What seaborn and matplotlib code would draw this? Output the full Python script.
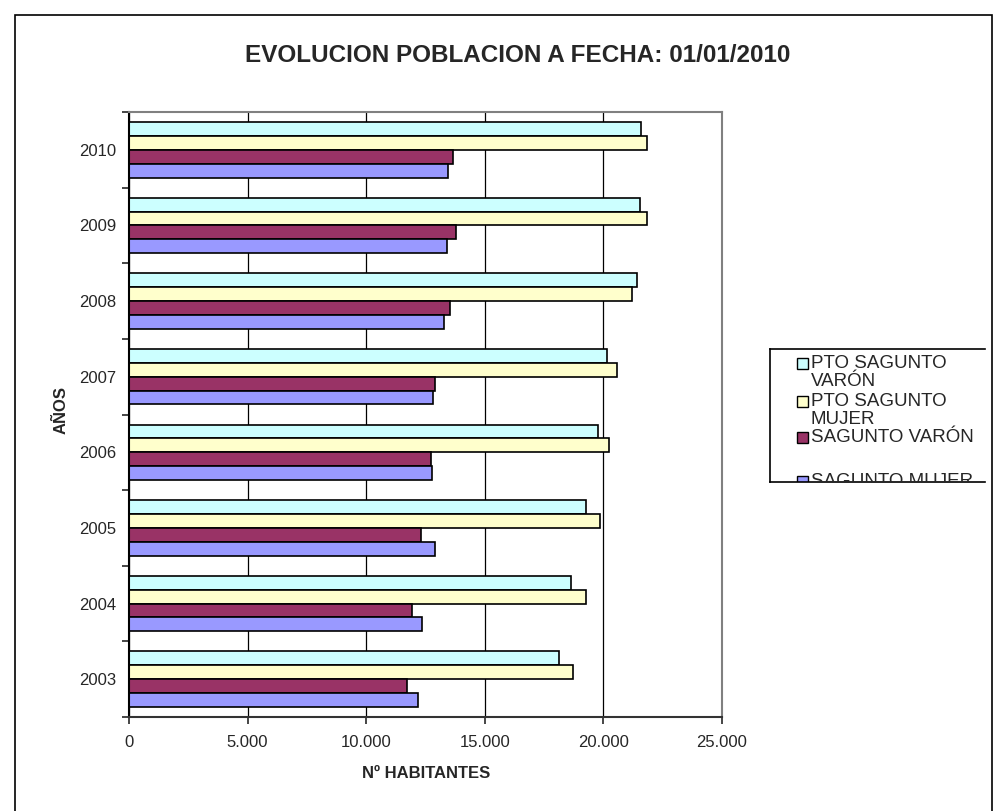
import numpy as np
import pandas as pd
import matplotlib
matplotlib.use("Agg")
import matplotlib.pyplot as plt
import seaborn as sns
from matplotlib.patches import Rectangle

# data
years = ['2010', '2009', '2008', '2007', '2006', '2005', '2004', '2003']
series_names = ['PTO SAGUNTO VARÓN', 'PTO SAGUNTO MUJER', 'SAGUNTO VARÓN', 'SAGUNTO MUJER']
legend_lines = [['PTO SAGUNTO', 'VARÓN'], ['PTO SAGUNTO', 'MUJER'], ['SAGUNTO VARÓN'], ['SAGUNTO MUJER']]
pto_varon = [21570, 21540, 21400, 20140, 19770, 19270, 18640, 18130]
pto_mujer = [21820, 21820, 21210, 20580, 20250, 19840, 19250, 18720]
sag_varon = [13670, 13780, 13550, 12900, 12730, 12290, 11920, 11730]
sag_mujer = [13430, 13410, 13270, 12830, 12780, 12890, 12340, 12200]
colors = ['#CCFFFF', '#FFFFCC', '#993366', '#9999FF']
x_ticks = [0, 5000, 10000, 15000, 20000, 25000]
x_tick_labels = ['0', '5.000', '10.000', '15.000', '20.000', '25.000']

df = pd.DataFrame({
    'year': years * 4,
    'serie': np.repeat(series_names, len(years)),
    'valor': pto_varon + pto_mujer + sag_varon + sag_mujer,
})

sns.set_style("white")
plt.rcParams['font.family'] = ['Liberation Sans', 'DejaVu Sans']

W, H = 1007, 811
fig = plt.figure(figsize=(W / 100, H / 100), dpi=100)

# outer chart border
fig.add_artist(Rectangle((15 / W, -0.05), 977 / W, 1 - 15 / H + 0.05, transform=fig.transFigure,
                         fill=False, edgecolor='black', linewidth=1.2))

ax = fig.add_axes([129 / W, 1 - 717 / H, (722 - 129) / W, (717 - 112) / H])
sns.barplot(data=df, x='valor', y='year', hue='serie', order=years, hue_order=series_names,
            palette=colors, saturation=1, width=0.733, edgecolor='black', linewidth=1.2,
            legend=False, ax=ax)

ax.set_xlim(0, 25000)
ax.set_xticks(x_ticks)
ax.set_xticklabels(x_tick_labels, fontsize=12)
ax.set_axisbelow(True)
ax.xaxis.grid(True, color='black', linewidth=0.9)
ax.yaxis.grid(False)
ax.set_yticks(range(len(years)))
ax.set_yticklabels(years, fontsize=12)
ax.set_yticks(np.arange(-0.5, len(years), 1), minor=True)
ax.tick_params(axis='y', which='major', length=0, pad=9)
ax.tick_params(axis='y', which='minor', length=5, width=1.2, direction='out', left=True)
ax.tick_params(axis='x', which='major', length=5, width=1.2, direction='out', bottom=True, pad=8)
ax.set_xlabel('')
ax.set_ylabel('')
for side, col in [('left', 'black'), ('bottom', '#333333'), ('top', '#808080'), ('right', '#808080')]:
    ax.spines[side].set_visible(True)
    ax.spines[side].set_color(col)
    ax.spines[side].set_linewidth(1.5)

fig.text(518 / W, 1 - 55 / H, 'EVOLUCION POBLACION A FECHA: 01/01/2010', ha='center', va='center',
         fontsize=17.5, fontweight='bold')
fig.text(426 / W, 1 - 773 / H, 'Nº HABITANTES', ha='center', va='center', fontsize=12, fontweight='bold')
fig.text(61 / W, 1 - 410 / H, 'AÑOS', ha='center', va='center', rotation=90, fontsize=12, fontweight='bold')

# legend box, clipped at the bottom like the original
lax = fig.add_axes([770 / W, 1 - 482 / H, (985 - 770) / W, (482 - 349) / H])
lax.set_xlim(770, 985)
lax.set_ylim(482, 349)
lax.set_xticks([])
lax.set_yticks([])
for side in ['left', 'top', 'bottom']:
    lax.spines[side].set_color('black')
    lax.spines[side].set_linewidth(1.2)
lax.spines['right'].set_visible(False)
line_centers = [[363, 381], [401, 419], [437], [481]]
for lines, centers, col in zip(legend_lines, line_centers, colors):
    lax.add_patch(Rectangle((797, centers[0] - 5.5), 11, 11, facecolor=col, edgecolor='black',
                            linewidth=1.0, clip_on=True))
    for txt, yc in zip(lines, centers):
        lax.text(811, yc, txt, ha='left', va='center', fontsize=13.5, clip_on=True)

fig.savefig('out.png', dpi=100)
